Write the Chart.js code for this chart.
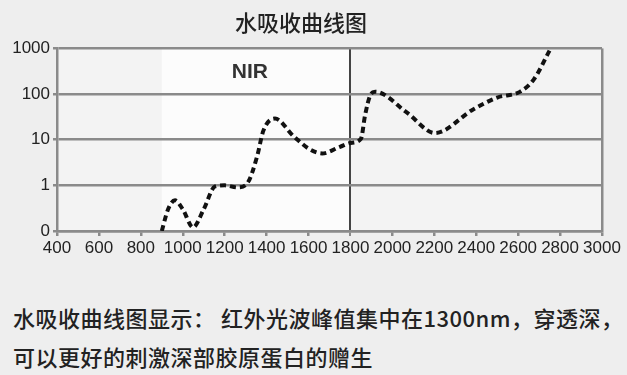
<!DOCTYPE html>
<html>
<head>
<meta charset="utf-8">
<script src="https://cdn.jsdelivr.net/npm/chart.js@4"></script>
<style>
    html, body { margin: 0; padding: 0; background: #eeeeee; }
    #wrap { position: relative; width: 627px; height: 375px; overflow: hidden; }
    #chartBox { position: absolute; left: 0; top: 0; width: 627px; height: 270px; }
    .caption {
        position: absolute; left: 13px; white-space: nowrap; line-height: 30px;
        font-family: 'Noto Sans CJK SC', sans-serif; font-size: 22px; font-weight: 500;
        letter-spacing: 0.5px; color: #222;
    }
</style>
</head>
<body>
<div id="wrap">
    <div id="chartBox"><canvas id="waterChart"></canvas></div>
    <div class="caption" id="line1" style="top: 302px;">水吸收曲线图显示： 红外光波峰值集中在1300nm，穿透深，</div>
    <div class="caption" id="line2" style="top: 341px;">可以更好的刺激深部胶原蛋白的赠生</div>
</div>
<script>
// Water absorption curve
const wavelengths = [900, 930, 963, 1000, 1049, 1100, 1154, 1200, 1260, 1310, 1354, 1385, 1440, 1528, 1605, 1665, 1750, 1800, 1850, 1870, 1895, 1918, 2070, 2203, 2385, 2500, 2610, 2675, 2750];
const absorption  = [0.1, 0.3, 0.47, 0.3, 0.12, 0.3, 0.95, 1.0, 0.9, 1.15, 4.2, 16, 29, 12, 6.2, 5, 7, 8.5, 10.5, 35, 95, 112, 39, 14, 46, 84, 113, 210, 900];

const xTicks = [400, 600, 800, 1000, 1200, 1400, 1600, 1800, 2000, 2200, 2400, 2600, 2800, 3000];
const yTicks = [0.1, 1, 10, 100, 1000];
const nirBand = [900, 1800];
const nirLabel = 'NIR';
const chartTitle = '水吸收曲线图';

const points = wavelengths.map((w, i) => ({ x: w, y: absorption[i] }));

const bandPlugin = {
    id: 'bands',
    beforeDraw(chart) {
        const { ctx, chartArea: a, scales: { x } } = chart;
        ctx.save();
        ctx.fillStyle = '#f3f3f3';
        ctx.fillRect(a.left, a.top, a.right - a.left, a.bottom - a.top);
        const x0 = x.getPixelForValue(nirBand[0]);
        const x1 = x.getPixelForValue(nirBand[1]);
        ctx.fillStyle = '#fcfcfc';
        ctx.fillRect(x0, a.top, x1 - x0, a.bottom - a.top);
        ctx.restore();
    },
    beforeDatasetsDraw(chart) {
        const { ctx, scales: { x, y } } = chart;
        ctx.save();
        ctx.font = "bold 21px 'Liberation Sans', Arial, sans-serif";
        ctx.fillStyle = '#333';
        ctx.textAlign = 'center';
        ctx.textBaseline = 'middle';
        ctx.fillText(nirLabel, x.getPixelForValue(1320), y.getPixelForValue(300));
        ctx.restore();
    }
};

const tickFont = { family: "'Liberation Sans Narrow', 'Liberation Sans', Arial, sans-serif", size: 17 };

new Chart(document.getElementById('waterChart'), {
    type: 'line',
    data: {
        datasets: [{
            data: points,
            borderColor: '#111',
            borderWidth: 4,
            borderDash: [6, 4],
            borderCapStyle: 'butt',
            cubicInterpolationMode: 'monotone',
            pointRadius: 0,
            fill: false
        }]
    },
    options: {
        responsive: true,
        maintainAspectRatio: false,
        animation: false,
        layout: { padding: { left: 0, right: 25, top: 0, bottom: 0 } },
        plugins: {
            legend: { display: false },
            tooltip: { enabled: false },
            title: {
                display: true,
                text: chartTitle,
                color: '#222',
                font: { family: "'Noto Sans CJK SC', sans-serif", size: 22, weight: 500, lineHeight: 1.2 },
                padding: { top: 9, bottom: 13 }
            }
        },
        scales: {
            x: {
                type: 'linear',
                min: 400,
                max: 3000,
                afterBuildTicks: scale => { scale.ticks = xTicks.map(v => ({ value: v })); },
                afterFit: scale => { scale.height = 39; },
                ticks: { color: '#222', font: tickFont, padding: 2, maxRotation: 0, autoSkip: false, callback: v => String(v) },
                grid: {
                    color: c => c.tick && c.tick.value === 1800 ? '#444' : (c.tick && c.tick.value === 3000 ? '#8a8a8a' : 'rgba(0,0,0,0)'),
                    lineWidth: c => c.tick && c.tick.value === 1800 ? 2 : 2.5,
                    tickColor: '#8a8a8a',
                    tickLength: 5
                },
                border: { color: '#8a8a8a', width: 2.5 }
            },
            y: {
                type: 'logarithmic',
                min: 0.1,
                max: 1000,
                afterBuildTicks: scale => { scale.ticks = yTicks.map(v => ({ value: v })); },
                afterFit: scale => { scale.width = 57; },
                ticks: {
                    color: '#222',
                    font: tickFont,
                    padding: 3,
                    callback: v => v === 0.1 ? '0' : String(v)
                },
                grid: { color: '#8a8a8a', lineWidth: 2.5, tickColor: '#8a8a8a', tickLength: 4 },
                border: { color: '#8a8a8a', width: 2.5 }
            }
        }
    },
    plugins: [bandPlugin]
});
</script>
</body>
</html>
